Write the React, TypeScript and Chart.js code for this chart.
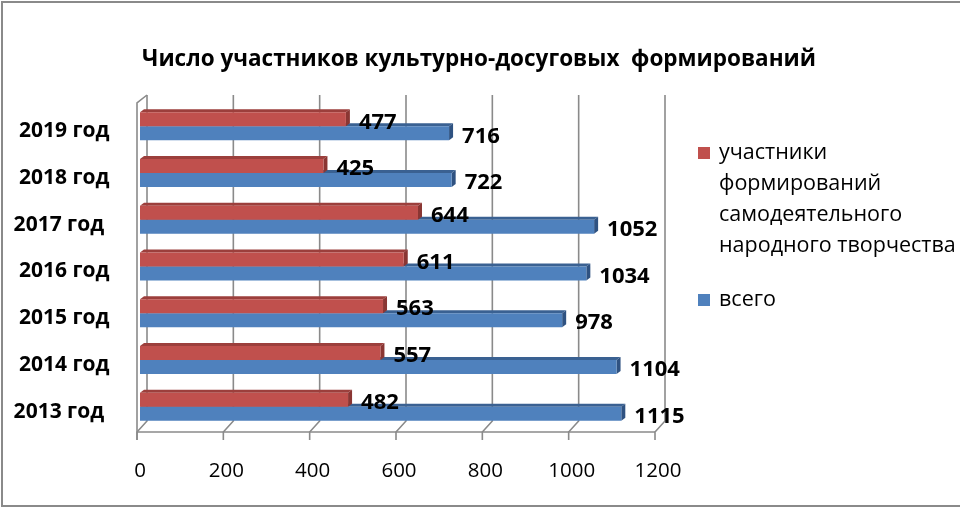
import React, { useEffect, useRef } from 'react';
import { Chart, registerables } from 'chart.js';

Chart.register(...registerables);

const chartTitle = 'Число участников культурно-досуговых  формирований';
const categories = ['2019 год', '2018 год', '2017 год  ', '2016 год', '2015 год', '2014 год', '2013 год  '];
const participants = [477, 425, 644, 611, 563, 557, 482];
const totals = [716, 722, 1052, 1034, 978, 1104, 1115];
const seriesNames = ['участники формирований самодеятельного народного творчества', 'всего'];
const legendLines = [
  ['участники', 'формирований', 'самодеятельного', 'народного творчества'],
  ['всего'],
];
const axisMin = 0;
const axisMax = 1200;
const axisStep = 200;

const FONT = '"Open Sans", "Noto Sans", "DejaVu Sans", sans-serif';
const frontColors = ['#C0504D', '#4F81BD'];
const topColors = ['#9C3F3C', '#3A6192'];
const sideColors = ['#8A3633', '#2F5281'];
const gridColor = '#8a8a8a';

const threeDPlugin = {
  id: 'threeD',
  beforeDatasetsDraw(chart: any) {
    const { ctx, chartArea: a } = chart;
    const xs = chart.scales.x;
    const front = (v: number) => xs.getPixelForValue(v) - 3;
    const fy = a.bottom + 2;
    const by = a.bottom - 9;
    ctx.save();
    ctx.strokeStyle = gridColor;
    ctx.lineWidth = 1.6;
    xs.ticks.forEach((t: any) => {
      const xf = front(t.value);
      const xb = xf + 10;
      ctx.beginPath();
      ctx.moveTo(xb, a.top - 8);
      ctx.lineTo(xb, by);
      ctx.lineTo(xf, fy);
      ctx.lineTo(xf, fy + 8);
      ctx.stroke();
    });
    const x0 = front(xs.min);
    ctx.beginPath();
    ctx.moveTo(x0, fy);
    ctx.lineTo(front(xs.max), fy);
    ctx.stroke();
    ctx.beginPath();
    ctx.moveTo(x0, fy + 8);
    ctx.lineTo(x0, a.top);
    ctx.lineTo(x0 + 10, a.top - 8);
    ctx.stroke();

    for (let d = chart.data.datasets.length - 1; d >= 0; d--) {
      const meta = chart.getDatasetMeta(d);
      meta.data.forEach((el: any) => {
        const { x, y, base, height } = el.getProps(['x', 'y', 'base', 'height'], true);
        const t = y - height / 2;
        const b = y + height / 2;
        ctx.fillStyle = topColors[d];
        ctx.beginPath();
        ctx.moveTo(base, t);
        ctx.lineTo(x, t);
        ctx.lineTo(x + 4, t - 3);
        ctx.lineTo(base + 4, t - 3);
        ctx.closePath();
        ctx.fill();
        ctx.fillStyle = sideColors[d];
        ctx.beginPath();
        ctx.moveTo(x, t);
        ctx.lineTo(x + 4, t - 3);
        ctx.lineTo(x + 4, b - 3);
        ctx.lineTo(x, b);
        ctx.closePath();
        ctx.fill();
      });
    }
    ctx.restore();
  },
  afterDatasetsDraw(chart: any) {
    const { ctx } = chart;
    ctx.save();
    ctx.fillStyle = '#000';
    ctx.font = `bold 22px ${FONT}`;
    ctx.textAlign = 'left';
    ctx.textBaseline = 'middle';
    chart.data.datasets.forEach((ds: any, d: number) => {
      const meta = chart.getDatasetMeta(d);
      meta.data.forEach((el: any, i: number) => {
        ctx.fillText(String(ds.data[i]), el.x + 13, el.y + 3);
      });
    });
    ctx.restore();
  },
  afterDraw(chart: any) {
    const { ctx } = chart;
    ctx.save();
    ctx.fillStyle = '#000';
    ctx.textBaseline = 'middle';
    ctx.textAlign = 'center';
    ctx.font = `bold 22.5px ${FONT}`;
    ctx.fillText(chartTitle, 479, 60);
    // legend
    ctx.textAlign = 'left';
    ctx.font = `21.5px ${FONT}`;
    let y = 153;
    legendLines.forEach((lines, d) => {
      ctx.fillStyle = frontColors[d];
      ctx.fillRect(698, y - 6, 12, 12);
      ctx.fillStyle = '#000';
      lines.forEach((ln, k) => {
        ctx.fillText(ln, 719, y + k * 31);
      });
      y += lines.length * 31 + 23;
    });
    ctx.restore();
  },
};

export default function App() {
  const ref = useRef<HTMLCanvasElement | null>(null);
  useEffect(() => {
    if (!ref.current) return;
    const chart = new Chart(ref.current, {
      type: 'bar',
      data: {
        labels: categories,
        datasets: [
          { label: seriesNames[0], data: participants, backgroundColor: frontColors[0], borderWidth: 0 },
          { label: seriesNames[1], data: totals, backgroundColor: frontColors[1], borderWidth: 0 },
        ],
      },
      options: {
        indexAxis: 'y',
        responsive: false,
        maintainAspectRatio: false,
        animation: false,
        devicePixelRatio: 1,
        datasets: { bar: { categoryPercentage: 0.6, barPercentage: 1.0 } },
        layout: { padding: { top: 103, right: 302, bottom: 0, left: 0 } },
        plugins: { legend: { display: false }, title: { display: false }, tooltip: { enabled: false } },
        scales: {
          x: {
            min: axisMin,
            max: axisMax,
            grid: { display: false, drawTicks: false },
            border: { display: false },
            ticks: {
              stepSize: axisStep,
              color: '#000',
              font: { family: FONT, size: 20.5 },
              padding: 29,
              callback: (v: any) => String(v),
            },
            afterFit(scale: any) { scale.height = 80; },
          },
          y: {
            grid: { display: false, drawTicks: false },
            border: { display: false },
            ticks: {
              color: '#000',
              font: { family: FONT, size: 21, weight: 'bold' },
              crossAlign: 'center',
              padding: 25,
              labelOffset: 5,
            },
            afterFit(scale: any) { scale.width = 140; },
          },
        },
      },
      plugins: [threeDPlugin],
    });
    return () => chart.destroy();
  }, []);

  return (
    <div style={{ position: 'fixed', left: 0, top: 0, width: 960, height: 510, background: '#fff', overflow: 'hidden' }}>
      <div style={{ position: 'absolute', left: 1, top: 1, width: 1000, height: 502, border: '2px solid #8a8a8a' }} />
      <canvas ref={ref} width={960} height={510} style={{ position: 'absolute', left: 0, top: 0, width: 960, height: 510 }} />
    </div>
  );
}
